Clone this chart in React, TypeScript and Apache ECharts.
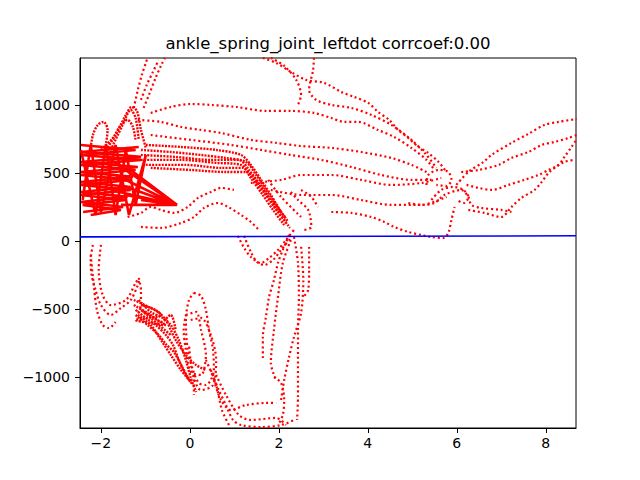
import React, { useEffect, useRef } from "react";
import * as echarts from "echarts";

// every strand is a trail of samples, [x, y]
const arcA = [[-1.26, 978], [-1.17, 1110], [-1.08, 1221], [-0.99, 1309], [-0.95, 1346]];
const arcB = [[-1.04, 978], [-0.92, 1074], [-0.77, 1199], [-0.63, 1302], [-0.56, 1346]];
const arcC = [[-1.1, 1037], [-0.97, 1147], [-0.83, 1243], [-0.7, 1331]];

const topA = [[1.64, 1346], [1.94, 1309], [2.27, 1243], [2.61, 1184], [3.02, 1162], [3.4, 1096], [3.69, 1059], [4.01, 1015], [4.23, 949], [4.48, 890], [4.68, 816], [4.91, 757], [5.14, 691], [5.36, 647], [5.59, 581], [5.77, 507]];
const topB = [[2.79, 1346], [2.77, 1257], [2.68, 1110], [2.84, 1037], [3.18, 1000], [3.63, 978], [4.08, 926], [4.53, 853], [4.98, 743], [5.32, 632], [5.54, 537]];
const topC = [[1.82, 1346], [2.12, 1287], [2.39, 1184], [2.5, 1074], [2.43, 1000]];

const upperArc = [[-0.88, 941], [-0.43, 985], [0.02, 1007], [0.47, 1000], [1.04, 985], [1.71, 956], [2.27, 956], [2.79, 941], [3.18, 904], [3.47, 875], [3.78, 875], [4.23, 816], [4.59, 765], [4.98, 684], [5.32, 596], [5.5, 522]];
const midA = [[-1.17, 890], [-0.65, 875], [-0.2, 838], [0.25, 816], [0.7, 794], [1.37, 743], [1.94, 721], [2.5, 698], [3.18, 684], [3.85, 654], [4.53, 610], [4.98, 559], [5.32, 507]];
const midB = [[-0.88, 779], [0.02, 743], [0.92, 706], [1.6, 669], [2.27, 632], [2.95, 596], [3.63, 544], [4.3, 485], [4.98, 449], [5.43, 449]];
const midC = [[1.37, 426], [2.05, 449], [2.5, 485], [3.18, 485], [3.85, 449], [4.53, 412], [5.2, 426], [5.65, 463]];
const midD = [[1.82, 375], [2.5, 338], [3.18, 338], [3.85, 301], [4.53, 265], [5.2, 265], [5.77, 324]];
const toBlue = [[3.18, 213], [3.63, 206], [4.08, 176], [4.37, 140], [4.59, 103], [4.91, 66], [5.2, 44], [5.43, 29], [5.7, 22], [5.81, 59], [5.88, 154], [5.95, 250]];

const knotA = [[5.32, 412], [5.36, 485], [5.59, 522], [5.81, 507], [5.88, 449], [5.77, 404], [5.54, 412]];
const knotB = [[5.43, 301], [5.65, 375], [5.92, 397], [6.15, 375], [6.26, 324], [6.17, 279], [5.99, 301]];
const wave = [[4.91, 279], [5.2, 265], [5.5, 279], [5.72, 338], [6.1, 375], [6.26, 324], [6.33, 265], [6.55, 243], [7.0, 228], [7.23, 213]];

const riseA = [[5.99, 412], [6.26, 507], [6.6, 581], [6.78, 632], [7.23, 721], [7.61, 787], [7.97, 853], [8.29, 875], [8.69, 897]];
const riseB = [[6.1, 507], [6.49, 522], [6.94, 559], [7.23, 610], [7.61, 654], [7.91, 706], [8.2, 728], [8.51, 757], [8.69, 779]];
const riseC = [[6.22, 412], [6.49, 390], [6.78, 375], [7.16, 412], [7.52, 449], [7.84, 485], [8.06, 522], [8.29, 559], [8.42, 618], [8.58, 691], [8.69, 743]];
const riseD = [[6.26, 228], [6.62, 206], [7.0, 176], [7.23, 250], [7.45, 316], [7.75, 375], [7.91, 434], [8.06, 500], [8.2, 537], [8.42, 581], [8.65, 596]];

const blobRows = [[-2.45, 706], [-1.22, 669], [-2.45, 632], [-1.1, 596], [-2.45, 559], [-1.22, 522], [-2.45, 485], [-1.33, 449], [-2.45, 412], [-1.33, 375], [-2.45, 338], [-1.44, 301], [-2.41, 265], [-1.55, 228], [-2.23, 191]];
const blobRowsB = [[-1.15, 691], [-2.45, 654], [-1.1, 618], [-2.45, 581], [-1.17, 544], [-2.45, 507], [-1.28, 471], [-2.45, 434], [-1.33, 397], [-2.45, 360], [-1.4, 324], [-2.45, 287], [-1.5, 250], [-2.4, 213]];
const blobCross = [[-2.45, 669], [-2.12, 191], [-1.89, 706], [-1.67, 191], [-1.44, 669], [-1.22, 265], [-0.99, 632], [-1.37, 191], [-1.67, 706], [-2.0, 213], [-2.23, 706], [-2.41, 301]];
const spikeA = [[-1.89, 669], [-1.67, 779], [-1.44, 926], [-1.31, 985], [-1.19, 956], [-1.1, 816], [-0.99, 684]];
const spikeB = [[-1.78, 669], [-1.51, 853], [-1.33, 963], [-1.22, 904], [-1.15, 743]];
const spikeC = [[-2.0, 669], [-1.73, 757], [-1.55, 853], [-1.4, 890], [-1.28, 838], [-1.22, 735]];
const smallLoop = [[-2.23, 684], [-2.18, 779], [-2.07, 853], [-1.94, 875], [-1.85, 816], [-1.89, 706]];
const fan = [[-0.29, 265], [-1.78, 596], [-0.29, 265], [-1.67, 485], [-0.29, 265], [-1.55, 412], [-0.29, 265], [-1.78, 375], [-0.29, 265], [-1.44, 338], [-0.29, 265], [-1.33, 522], [-0.29, 265], [-1.1, 301], [-0.29, 265], [-1.55, 265]];

const bandA = [[-1.1, 669], [-0.43, 654], [0.25, 632], [0.81, 610], [1.26, 581], [1.49, 485], [1.71, 375], [1.94, 265], [2.21, 140]];
const bandB = [[-1.1, 596], [-0.2, 596], [0.59, 574], [1.15, 559], [1.37, 463], [1.64, 338], [1.87, 228], [2.12, 118]];
const bandC = [[-0.99, 706], [-0.2, 691], [0.59, 669], [1.15, 632], [1.37, 559], [1.6, 449], [1.82, 338], [2.05, 213]];
const bandD = [[-0.88, 537], [0.02, 522], [0.81, 507], [1.26, 507], [1.58, 412], [1.82, 301], [2.16, 169]];
const bandE = [[-1.1, 632], [-0.32, 618], [0.47, 596], [1.1, 596], [1.33, 522], [1.6, 397], [1.87, 265], [2.16, 140]];
const bandF = [[-0.99, 559], [-0.09, 559], [0.7, 537], [1.19, 537], [1.44, 449], [1.71, 338], [1.98, 213], [2.25, 96]];
const diagA = [[1.76, 449], [2.05, 324], [2.5, 176]];
const diagB = [[2.27, 360], [2.43, 301], [2.66, 228], [2.73, 103], [2.57, 81]];
const diagC = [[2.5, 375], [2.73, 324], [2.88, 250]];
const sCurve = [[-1.4, 176], [-1.1, 206], [-0.88, 250], [-0.65, 228], [-0.36, 206], [-0.05, 250], [0.18, 316], [0.47, 360], [0.7, 390], [0.99, 375]];
const lowArc = [[-1.1, 103], [-0.65, 96], [-0.2, 132], [0.09, 176], [0.32, 243], [0.63, 279], [0.86, 250], [1.15, 191], [1.37, 140], [1.55, 81]];

const vA = [[1.08, 37], [1.22, -51], [1.37, -118], [1.6, -162], [1.78, -125], [1.98, -66], [2.16, 7], [2.34, 81]];
const vB = [[1.22, 37], [1.37, -81], [1.51, -154], [1.67, -176], [1.87, -140], [2.05, -66], [2.27, 22]];
const uA = [[2.23, 44], [2.09, -66], [1.98, -162], [1.89, -287], [1.78, -412], [1.71, -559], [1.64, -706], [1.64, -875]];
const uB = [[2.27, 7], [2.09, -162], [1.98, -412], [1.89, -654], [1.82, -897], [1.94, -1022]];
const uC = [[2.34, 29], [2.43, -162], [2.45, -412], [2.43, -654], [2.43, -897], [2.43, -1147], [2.41, -1316]];
const uD = [[2.5, -44], [2.55, -287], [2.5, -529], [2.34, -706], [2.23, -853], [2.12, -1022], [2.05, -1169]];
const hook = [[2.68, -44], [2.68, -213], [2.66, -360], [2.55, -412]];
const footLoop = [[1.89, -1000], [2.05, -1044], [2.12, -1169], [2.09, -1279], [1.98, -1353]];

const leftA = [[-2.18, -29], [-2.23, -140], [-2.21, -250], [-2.12, -360], [-2.0, -471], [-1.78, -544], [-1.55, -493], [-1.33, -434], [-1.17, -324], [-1.13, -272]];
const leftB = [[-2.23, -103], [-2.16, -324], [-2.09, -507], [-1.96, -618], [-1.82, -640], [-1.67, -596]];
const leftC = [[-2.0, -29], [-2.05, -213], [-1.96, -397], [-1.78, -471], [-1.44, -434], [-1.22, -309], [-1.15, -272]];
const peak = [[-1.15, -272], [-1.1, -360], [-1.1, -471], [-1.17, -522]];

const dropA = [[-1.22, -507], [-0.99, -566], [-0.77, -618], [-0.54, -691], [-0.38, -765], [-0.25, -875], [-0.09, -985], [0.07, -1059]];
const dropB = [[-1.1, -471], [-0.77, -507], [-0.54, -581], [-0.43, -654], [-0.32, -728], [-0.09, -838], [0.14, -912], [0.36, -949]];
const dropC = [[-1.17, -544], [-0.88, -618], [-0.65, -728], [-0.43, -838], [-0.2, -949], [0.02, -1037]];
const dropD = [[-1.26, -471], [-0.88, -544], [-0.65, -596], [-0.43, -544], [-0.32, -654]];
const dropE = [[-1.15, -434], [-0.88, -522], [-0.61, -566], [-0.43, -618], [-0.25, -728], [-0.09, -875], [0.02, -1007], [0.14, -1110]];
const dropF = [[-1.22, -544], [-0.95, -618], [-0.7, -691], [-0.52, -765], [-0.36, -816], [-0.16, -934], [-0.02, -1022]];
const clump = [[-1.26, -434], [-0.65, -544], [-1.22, -581], [-0.54, -618], [-1.1, -507], [-0.43, -691]];

const loopA = [[0.09, -382], [0.25, -404], [0.36, -507], [0.43, -654], [0.52, -801], [0.54, -949], [0.47, -1022], [0.36, -1059], [0.2, -1044], [0.07, -949], [-0.05, -801], [-0.09, -581], [-0.02, -434], [0.09, -382]];
const loopB = [[-0.09, -544], [0.14, -522], [0.25, -654], [0.36, -838], [0.25, -985], [0.02, -963], [-0.09, -801], [-0.14, -654], [-0.09, -544]];
const loopC = [[0.02, -581], [0.25, -566], [0.47, -691], [0.59, -875], [0.52, -1059], [0.25, -1096], [0.07, -985], [-0.02, -765]];
const ladder = [[0.09, -985], [0.09, -1132]];

const floorA = [[0.47, -949], [0.65, -1096], [0.81, -1206], [0.97, -1316], [1.15, -1353], [1.6, -1368], [2.05, -1353], [2.34, -1316]];
const floorB = [[0.54, -1022], [0.7, -1169], [0.92, -1243], [1.26, -1206], [1.71, -1191], [1.94, -1191]];
const floorC = [[0.59, -985], [0.81, -1132], [1.1, -1279], [1.37, -1316], [1.94, -1301], [2.16, -1353]];
const floorD = [[0.36, -875], [0.59, -1059], [0.72, -1243], [0.88, -1353]];

const fitLine = [[-2.47, 30], [8.68, 38]];

const xTicks = [-2, 0, 2, 4, 6, 8];
const yTicks = [-1000, -500, 0, 500, 1000];

const sparse = [arcA, arcB, arcC, topA, topB, topC, upperArc, midA, midB, midC, midD, toBlue, knotA, knotB, wave, riseA, riseB, riseC, riseD, diagA, diagB, diagC, sCurve, lowArc, vA, vB, uA, uB, uC, uD, hook, footLoop, leftA, leftB, leftC, peak, loopA, loopB, loopC, ladder, floorA, floorB, floorC, floorD];
const dense = [spikeA, spikeB, spikeC, smallLoop, bandA, bandB, bandC, bandD, bandE, bandF, dropA, dropB, dropC, dropD, dropE, dropF, clump];
const solid = [blobRows, blobRowsB, blobCross, fan];

const minus = (v: number) => String(v).replace("-", "\u2212");

const App = () => {
  const chartRef = useRef<HTMLDivElement>(null);

  useEffect(() => {
    if (!chartRef.current) return;
    const chart = echarts.init(chartRef.current, undefined, { renderer: "svg" });

    const red = "#ff0000";
    const strand = (data: number[][], dash: number[] | string, smooth: number | boolean, width = 2.2) => ({
      type: "line",
      data,
      smooth,
      symbol: "none",
      silent: true,
      clip: true,
      lineStyle: { color: red, width, type: dash },
    });

    const font = "DejaVu Sans";
    chart.setOption({
      animation: false,
      backgroundColor: "#ffffff",
      grid: {
        left: 80,
        top: 58,
        width: 496,
        height: 370,
        show: true,
        borderColor: "#000",
        borderWidth: 1,
      },
      graphic: [
        {
          type: "text",
          x: 328,
          y: 43,
          style: {
            text: "ankle_spring_joint_leftdot corrcoef:0.00",
            textAlign: "center",
            textVerticalAlign: "middle",
            fontSize: 16.5,
            fontFamily: font,
            fill: "#000",
          },
        },
      ],
      xAxis: {
        type: "value",
        min: -2.47,
        max: 8.68,
        splitLine: { show: false },
        axisLine: { onZero: false, lineStyle: { color: "#000" } },
        axisTick: { customValues: xTicks, length: 5, lineStyle: { color: "#000" } },
        axisLabel: {
          customValues: xTicks,
          formatter: minus,
          color: "#000",
          fontSize: 14,
          fontFamily: font,
          margin: 8,
        },
      },
      yAxis: {
        type: "value",
        min: -1375,
        max: 1345,
        splitLine: { show: false },
        axisLine: { show: true, onZero: false, lineStyle: { color: "#000" } },
        axisTick: { show: true, customValues: yTicks, length: 5, lineStyle: { color: "#000" } },
        axisLabel: {
          customValues: yTicks,
          formatter: minus,
          color: "#000",
          fontSize: 14,
          fontFamily: font,
          margin: 10,
        },
      },
      series: [
        ...solid.map((d) => strand(d, "solid", false, 2.6)),
        ...dense.map((d) => strand(d, [2, 1.2], 0.3, 2.4)),
        ...sparse.map((d) => strand(d, [2, 2.8], 0.3)),
        {
          type: "line",
          data: fitLine,
          symbol: "none",
          silent: true,
          lineStyle: { color: "#0000ff", width: 1.6 },
          z: 5,
        },
      ],
    });

    return () => chart.dispose();
  }, []);

  return (
    <div
      ref={chartRef}
      style={{ position: "absolute", left: 0, top: 0, width: 640, height: 480 }}
    />
  );
};

export default App;
